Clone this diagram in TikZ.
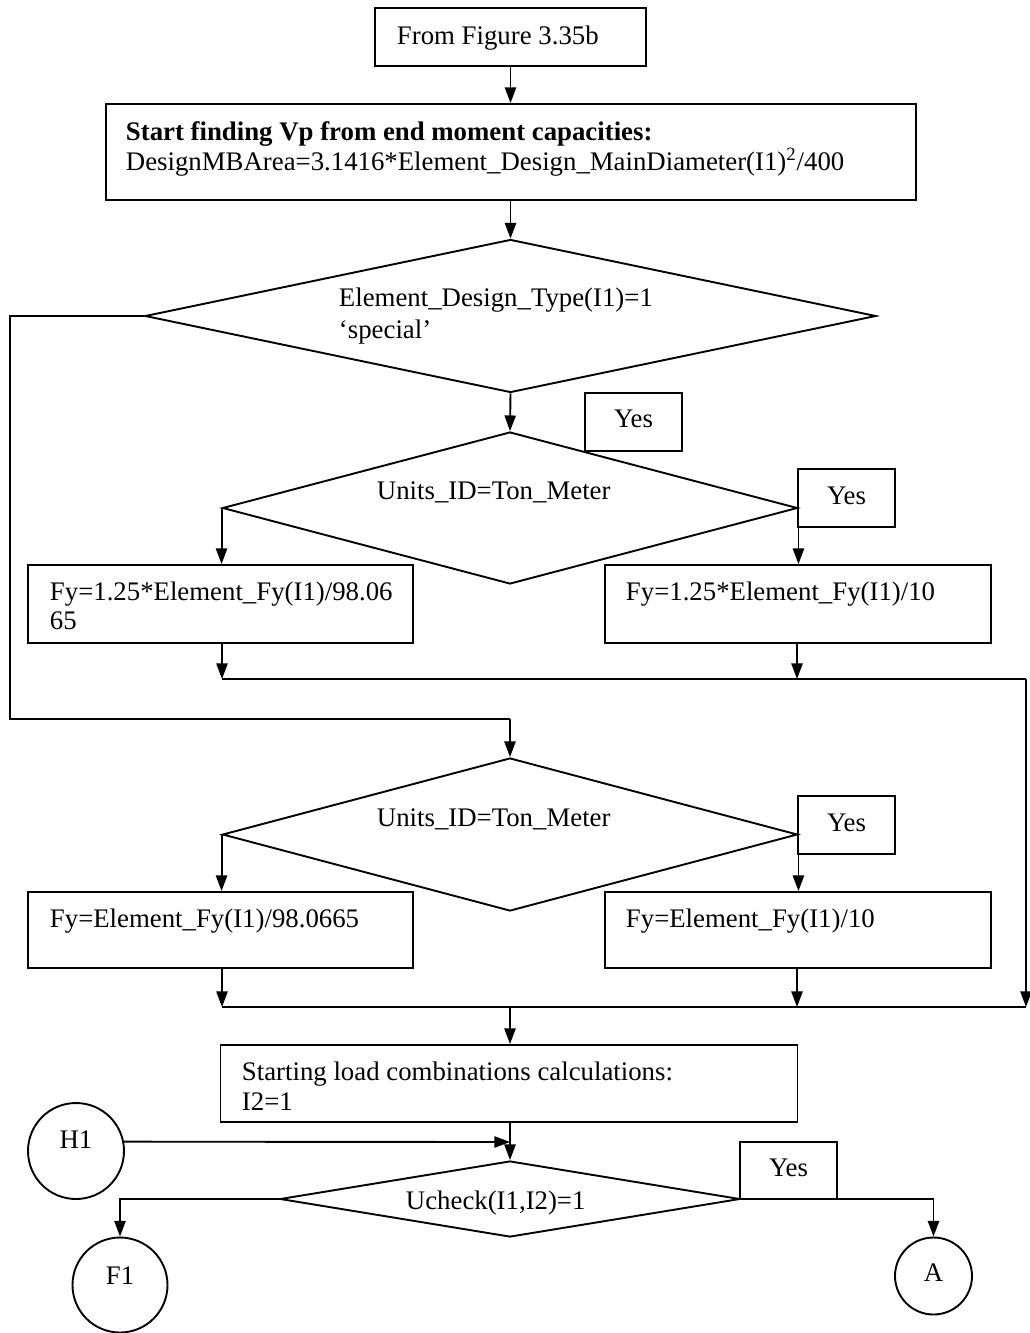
\documentclass[tikz,border=0pt]{standalone}
\usepackage{fontspec}
\setmainfont{Liberation Serif}
\usetikzlibrary{shapes.geometric,arrows.meta}
\begin{document}
\begin{tikzpicture}[x=0.5pt,y=-0.5pt,line width=0.95pt,
  box/.style={draw,rectangle,inner sep=0pt},
  dia/.style={draw,diamond,inner sep=0pt},
  conn/.style={draw,circle,inner sep=0pt},
  txt/.style={inner sep=0pt,anchor=base west,font=\fontsize{13.4pt}{15pt}\selectfont},
  ctxt/.style={inner sep=0pt,anchor=base,font=\fontsize{13.4pt}{15pt}\selectfont},
  arr/.style={-{Triangle[length=7.8pt,width=5.6pt]}},
  line/.style={draw}]
\useasboundingbox (0,0) rectangle (1029,1333);
% shapes
\node[box,minimum width=135.5pt,minimum height=29pt] (b1) at (510.5,37) {};
\node[box,minimum width=405pt,minimum height=48pt] (b2) at (511,152) {};
\node[dia,minimum width=365.5pt,minimum height=76.5pt] (d1) at (510.5,316) {};
\node[box,minimum width=48.5pt,minimum height=29pt] (y1) at (633.5,422) {};
\node[dia,minimum width=287.5pt,minimum height=76pt] (d2) at (510,508) {};
\node[box,minimum width=48.5pt,minimum height=29pt] (y2) at (846.5,498) {};
\node[box,minimum width=192.5pt,minimum height=39pt] (bl1) at (220.5,604) {};
\node[box,minimum width=193pt,minimum height=39pt] (br1) at (798,604) {};
\node[dia,minimum width=287.5pt,minimum height=76.5pt] (d3) at (510,834.5) {};
\node[box,minimum width=48.5pt,minimum height=29pt] (y3) at (846.5,825) {};
\node[box,minimum width=192.5pt,minimum height=38pt] (bl2) at (220.5,930) {};
\node[box,minimum width=193pt,minimum height=38pt] (br2) at (798,930) {};
\node[box,minimum width=288.5pt,minimum height=38.5pt] (b3) at (509,1083.5) {};
\node[conn,minimum size=48pt] (h1) at (76,1151) {};
\node[dia,minimum width=230pt,minimum height=38pt] (d4) at (510,1199) {};
\node[box,minimum width=48.5pt,minimum height=28.5pt] (y4) at (788.5,1170.5) {};
\node[conn,minimum size=47.5pt] (f1) at (120,1285) {};
\node[conn,minimum size=38.5pt] (a) at (933.5,1276) {};
% texts
\node[txt] (t1) at (396,44) {From Figure 3.35b};
\node[txt] (t2a) at (125,140) {\textbf{Start finding Vp from end moment capacities:}};
\node[txt] (t2b) at (125,170.5) {DesignMBArea=3.1416*Element\_Design\_MainDiameter(I1)\textsuperscript{2}/400};
\node[txt] (t3a) at (338,306.5) {Element\_Design\_Type(I1)=1};
\node[txt] (t3b) at (338,338) {‘special’};
\node[ctxt] (ty1) at (633.5,427) {Yes};
\node[txt] (t4) at (376,499) {Units\_ID=Ton\_Meter};
\node[ctxt] (ty2) at (846.5,504) {Yes};
\node[txt] (t5a) at (49,600) {Fy=1.25*Element\_Fy(I1)/98.06};
\node[txt] (t5b) at (49,629) {65};
\node[txt] (t6) at (625,600) {Fy=1.25*Element\_Fy(I1)/10};
\node[txt] (t7) at (376,826) {Units\_ID=Ton\_Meter};
\node[ctxt] (ty3) at (846.5,831) {Yes};
\node[txt] (t8) at (49,927) {Fy=Element\_Fy(I1)/98.0665};
\node[txt] (t9) at (625,927) {Fy=Element\_Fy(I1)/10};
\node[txt] (t10a) at (241,1080) {Starting load combinations calculations:};
\node[txt] (t10b) at (241,1110) {I2=1};
\node[ctxt] (th1) at (76,1148) {H1};
\node[txt] (t11) at (405,1209) {Ucheck(I1,I2)=1};
\node[ctxt] (ty4) at (788.5,1176) {Yes};
\node[ctxt] (tf1) at (120,1284) {F1};
\node[ctxt] (ta) at (933.5,1281) {A};
% junction coordinates
\coordinate (jl) at (10,316);
\coordinate (jl2) at (10,719);
\coordinate (jm) at (510,719);
\coordinate (m1l) at (222,679);
\coordinate (m1r) at (797,679);
\coordinate (m1e) at (1026,679);
\coordinate (m2l) at (222,1007);
\coordinate (m2r) at (797,1007);
\coordinate (m2m) at (510,1007);
\coordinate (m2e) at (1026,1007);
\coordinate (hm) at (510,1142);
% connectors
\draw[arr] (b1.south) -- (b2.north -| b1.south);
\draw[arr] (b2.south -| d1.north) -- (d1.north);
\draw[arr] (d1.south) -- (d2.north);
\draw (d1.west) -- (jl) -- (jl2) -- (jm);
\draw[arr] (jm) -- (d3.north);
\draw[arr] (d2.west) -- (d2.west |- bl1.north);
\draw[arr] (d2.east) -- (d2.east |- br1.north);
\draw[arr] (bl1.south -| m1l) -- (m1l);
\draw[arr] (br1.south -| m1r) -- (m1r);
\draw (m1l) -- (m1e);
\draw[arr] (m1e) -- (m2e);
\draw[arr] (d3.west) -- (d3.west |- bl2.north);
\draw[arr] (d3.east) -- (d3.east |- br2.north);
\draw[arr] (bl2.south -| m2l) -- (m2l);
\draw[arr] (br2.south -| m2r) -- (m2r);
\draw (m2l) -- (m2e);
\draw[arr] (m2m) -- (b3.north -| m2m);
\draw[arr] (b3.south -| d4.north) -- (d4.north);
\draw[arr] (h1.11) -- (hm);
\draw[arr] (d4.west) -| (f1.north);
\draw[arr] (d4.east) -| (a.north);
\end{tikzpicture}
\end{document}
